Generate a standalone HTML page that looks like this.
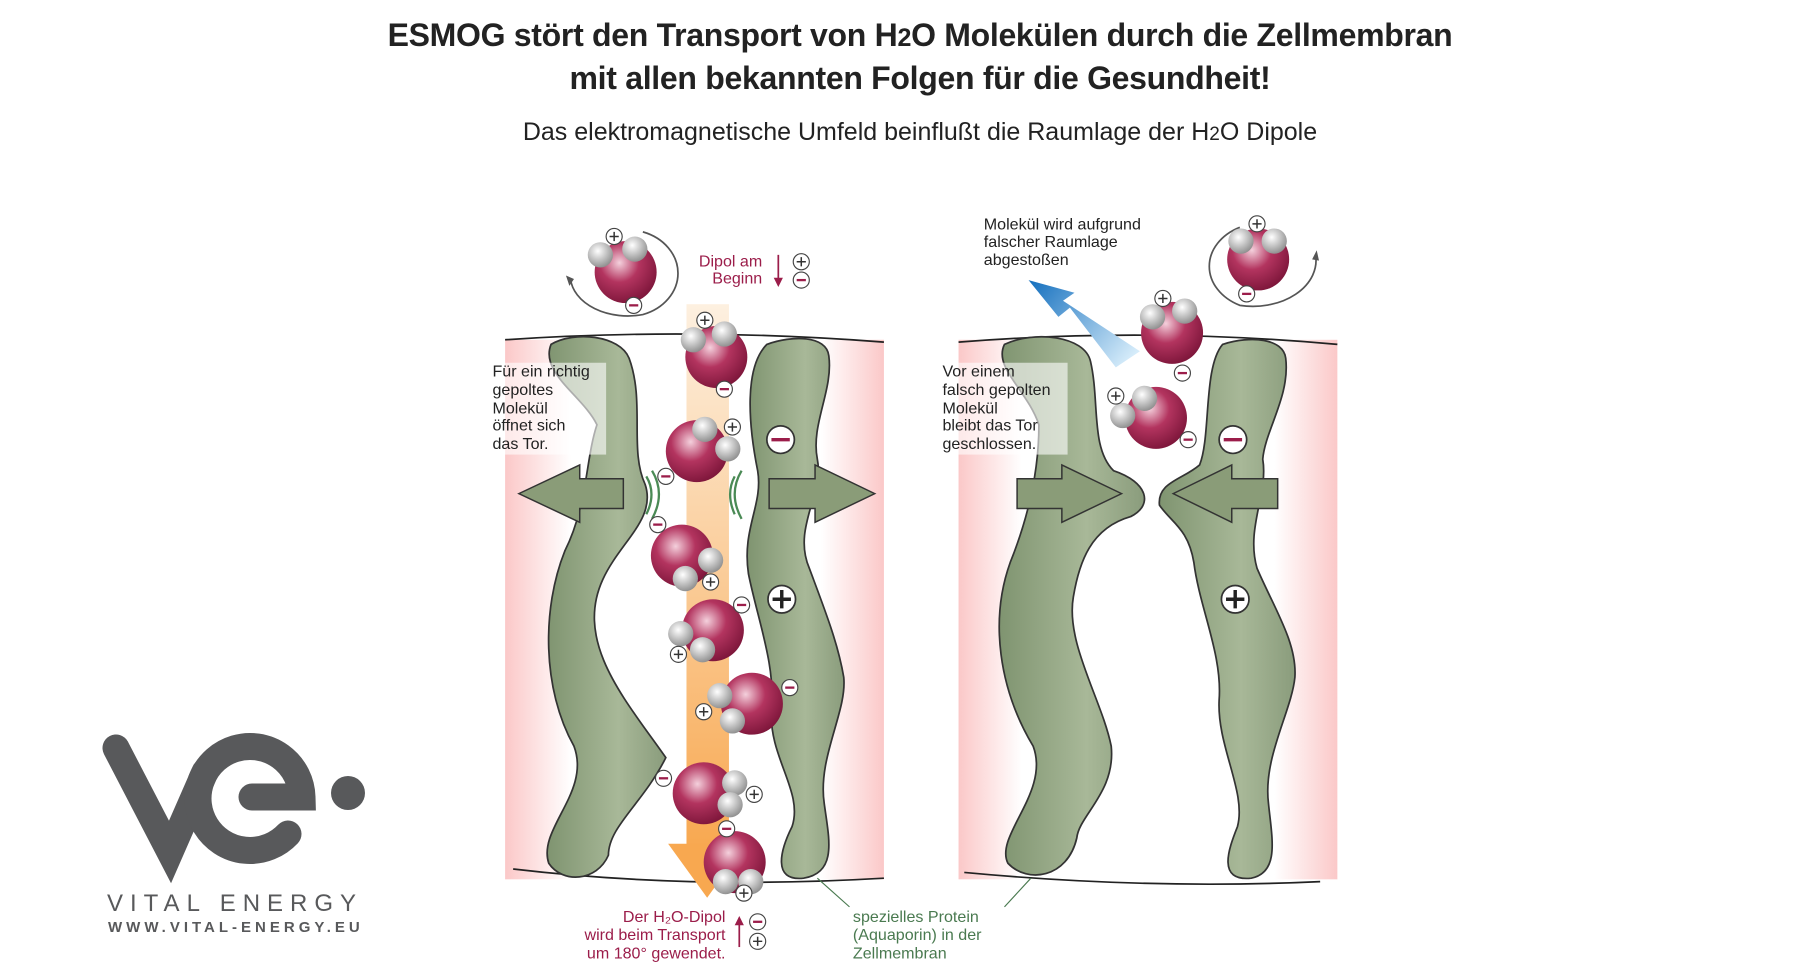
<!DOCTYPE html>
<html><head><meta charset="utf-8"><style>
html,body{margin:0;padding:0;background:#fff}
#w{position:relative;width:1800px;height:980px;overflow:hidden;font-family:"Liberation Sans",sans-serif}
.t{position:absolute;left:0;width:1840px;text-align:center;color:#222}
</style></head><body><div id="w">
<div class="t" style="top:15px;font-size:32px;font-weight:bold;line-height:40px;letter-spacing:-0.3px">ESMOG stört den Transport von H<span style="font-size:25px">2</span>O Molekülen durch die Zellmembran<br>mit allen bekannten Folgen für die Gesundheit!</div>
<div class="t" style="top:118px;font-size:25px">Das elektromagnetische Umfeld beinflußt die Raumlage der H<span style="font-size:19px">2</span>O Dipole</div>

<svg style="position:absolute;left:0;top:0" width="1800" height="980" viewBox="0 0 1568 853.7" font-family="Liberation Sans, sans-serif">
<defs>
<linearGradient id="pl" x1="0" x2="1"><stop offset="0" stop-color="#fbc8c8"/><stop offset="0.5" stop-color="#fff"/></linearGradient>
<linearGradient id="pr" x1="1" x2="0"><stop offset="0" stop-color="#fbc8c8"/><stop offset="0.5" stop-color="#fff"/></linearGradient>
<linearGradient id="or" x1="0" y1="0" x2="0" y2="1"><stop offset="0" stop-color="#fdf0e0"/><stop offset="1" stop-color="#f8a850"/></linearGradient>
<linearGradient id="bl" x1="983" y1="315" x2="900" y2="245" gradientUnits="userSpaceOnUse"><stop offset="0" stop-color="#d6ecfa"/><stop offset="1" stop-color="#1a73c0"/></linearGradient>
<radialGradient id="ox" cx="0.4" cy="0.35" r="0.7"><stop offset="0" stop-color="#f4d0dc"/><stop offset="0.45" stop-color="#b3345f"/><stop offset="1" stop-color="#7a1438"/></radialGradient>
<radialGradient id="hy" cx="0.4" cy="0.35" r="0.7"><stop offset="0" stop-color="#fff"/><stop offset="1" stop-color="#8a8a8a"/></radialGradient>
<linearGradient id="gr" x1="0" x2="1"><stop offset="0" stop-color="#7f9470"/><stop offset="0.6" stop-color="#a8b898"/><stop offset="1" stop-color="#8a9c7c"/></linearGradient>
<g id="m"><circle r="27" fill="url(#ox)"/></g>
<g id="h"><circle r="11" fill="url(#hy)"/></g>
<g id="pp"><circle r="7" fill="#fff" stroke="#444" stroke-width="1"/><path d="M-4 0H4M0-4V4" stroke="#333" stroke-width="1.3"/></g>
<g id="mm"><circle r="7" fill="#fff" stroke="#444" stroke-width="1"/><path d="M-4 0H4" stroke="#9b1d4a" stroke-width="2"/></g>
</defs>

<rect x="440" y="296" width="115" height="470" fill="url(#pl)"/>
<rect x="660" y="296" width="110" height="470" fill="url(#pr)"/>
<path d="M440 296 Q600 285 770 298" fill="none" stroke="#222" stroke-width="1.5"/>
<path d="M447 757 Q600 775 770 765" fill="none" stroke="#222" stroke-width="1.5"/>
<rect x="598" y="265" width="37" height="475" fill="url(#or)"/>
<polygon points="582,735 650,735 616,782" fill="#f8a850"/>
<path d="M480 300 C500 288 540 292 548 312 C562 350 548 392 562 422 C572 452 540 472 525 505 C500 560 545 610 580 660 C560 700 530 720 530 745 C520 768 490 770 478 752 C468 722 515 690 500 650 C472 600 472 530 492 480 C512 440 510 400 520 370 C508 345 470 325 480 300Z" fill="url(#gr)" stroke="#333" stroke-width="1.5"/>
<path d="M668 300 C690 292 720 292 722 310 C726 340 706 370 712 400 C718 430 690 460 705 495 C718 530 730 560 735 590 C738 620 712 660 718 700 C722 730 730 760 700 765 C672 768 680 740 690 720 C700 690 670 660 672 620 C676 580 660 540 652 500 C646 460 665 440 660 410 C652 370 648 320 668 300Z" fill="url(#gr)" stroke="#333" stroke-width="1.5"/>
<polygon points="452,430 505,405 505,417 543,417 543,443 505,443 505,455" fill="#8a9c78" stroke="#333" stroke-width="1.3"/>
<polygon points="762,430 710,405 710,417 670,417 670,443 710,443 710,455" fill="#8a9c78" stroke="#333" stroke-width="1.3"/>
<path d="M563 415 Q572 430 563 448 M568 410 Q580 430 568 452 M640 415 Q632 430 640 448 M646 410 Q634 430 646 452" fill="none" stroke="#4a8a55" stroke-width="2"/>
<rect x="428" y="316" width="100" height="80" fill="#fff" opacity="0.6"/>
<g font-size="14" fill="#222"><text x="429" y="328">Für ein richtig</text><text x="429" y="344">gepoltes</text><text x="429" y="360">Molekül</text><text x="429" y="375">öffnet sich</text><text x="429" y="391">das Tor.</text></g>
<circle cx="680" cy="383" r="12" fill="#fff" stroke="#333" stroke-width="1.5"/><path d="M672 383H688" stroke="#9b1d4a" stroke-width="3"/>
<circle cx="681" cy="522" r="12" fill="#fff" stroke="#333" stroke-width="1.5"/><path d="M673 522H689M681 514V530" stroke="#222" stroke-width="3"/>

<rect x="835" y="296" width="110" height="470" fill="url(#pl)"/>
<rect x="1055" y="296" width="110" height="470" fill="url(#pr)"/>
<path d="M835 298 Q1000 285 1165 300" fill="none" stroke="#222" stroke-width="1.5"/>
<path d="M840 760 Q1000 775 1150 768" fill="none" stroke="#222" stroke-width="1.5"/>
<path d="M875 300 C900 288 945 292 950 315 C958 350 950 390 970 410 C1000 420 1005 440 985 450 C950 460 940 490 935 520 C928 560 960 610 968 650 C972 690 940 710 938 730 C930 765 895 770 878 752 C866 728 915 690 900 650 C870 600 862 540 880 490 C900 440 905 400 905 370 C895 340 865 320 875 300Z" fill="url(#gr)" stroke="#333" stroke-width="1.5"/>
<path d="M1065 300 C1090 292 1118 295 1120 312 C1124 345 1102 375 1100 400 C1105 430 1085 460 1095 495 C1110 530 1130 560 1128 590 C1125 620 1100 660 1105 700 C1108 730 1115 760 1090 765 C1060 768 1070 740 1078 720 C1086 690 1060 650 1062 610 C1065 570 1045 530 1040 490 C1035 460 1020 455 1010 440 C1008 420 1030 418 1045 405 C1055 380 1048 320 1065 300Z" fill="url(#gr)" stroke="#333" stroke-width="1.5"/>
<polygon points="977,430 925,405 925,417 886,417 886,443 925,443 925,455" fill="#8a9c78" stroke="#333" stroke-width="1.3"/>
<polygon points="1022,430 1073,405 1073,417 1113,417 1113,443 1073,443 1073,455" fill="#8a9c78" stroke="#333" stroke-width="1.3"/>
<rect x="820" y="316" width="110" height="80" fill="#fff" opacity="0.6"/>
<g font-size="14" fill="#222"><text x="821" y="328">Vor einem</text><text x="821" y="344">falsch gepolten</text><text x="821" y="360">Molekül</text><text x="821" y="375">bleibt das Tor</text><text x="821" y="391">geschlossen.</text></g>
<circle cx="1074" cy="383" r="12" fill="#fff" stroke="#333" stroke-width="1.5"/><path d="M1066 383H1082" stroke="#9b1d4a" stroke-width="3"/>
<circle cx="1076" cy="522" r="12" fill="#fff" stroke="#333" stroke-width="1.5"/><path d="M1068 522H1084M1076 514V530" stroke="#222" stroke-width="3"/>
<polygon points="993,306 972,320 932,268 922,276 896,244 936,255 926,262" fill="url(#bl)"/>
<g font-size="14" fill="#222"><text x="857" y="200">Molekül wird aufgrund</text><text x="857" y="215">falscher Raumlage</text><text x="857" y="231">abgestoßen</text></g>

<path d="M560 202 A45 38 0 0 1 560 274 A50 35 0 0 1 497 243" fill="none" stroke="#555" stroke-width="1.5"/><path d="M493 240l3 9 4-6z" fill="#555"/>
<use href="#m" x="545" y="237"/><use href="#h" x="523" y="222"/><use href="#h" x="553" y="217"/><use href="#pp" x="535" y="206"/><use href="#mm" x="552" y="266"/>
<path d="M1080 198 A48 38 0 0 0 1080 266 A55 40 0 0 0 1146 222" fill="none" stroke="#555" stroke-width="1.5"/><path d="M1147 218l-4 8 6 1z" fill="#555"/>
<use href="#m" x="1096" y="226"/><use href="#h" x="1081" y="210"/><use href="#h" x="1110" y="210"/><use href="#pp" x="1095" y="195"/><use href="#mm" x="1086" y="256"/>
<use href="#m" x="1021" y="290"/><use href="#h" x="1004" y="276"/><use href="#h" x="1032" y="271"/><use href="#pp" x="1013" y="260"/><use href="#mm" x="1030" y="325"/>
<use href="#m" x="1007" y="364"/><use href="#h" x="978" y="362"/><use href="#h" x="997" y="347"/><use href="#pp" x="972" y="345"/><use href="#mm" x="1035" y="383"/>
<use href="#m" x="624" y="311"/><use href="#h" x="604" y="296"/><use href="#h" x="631" y="291"/><use href="#pp" x="614" y="279"/><use href="#mm" x="631" y="339"/>
<use href="#m" x="607" y="393"/><use href="#h" x="614" y="374"/><use href="#h" x="634" y="391"/><use href="#pp" x="638" y="372"/><use href="#mm" x="580" y="415"/>
<use href="#m" x="594" y="484"/><use href="#h" x="619" y="488"/><use href="#h" x="597" y="504"/><use href="#pp" x="619" y="507"/><use href="#mm" x="573" y="457"/>
<use href="#m" x="621" y="549"/><use href="#h" x="593" y="552"/><use href="#h" x="612" y="566"/><use href="#pp" x="591" y="570"/><use href="#mm" x="646" y="527"/>
<use href="#m" x="655" y="613"/><use href="#h" x="627" y="606"/><use href="#h" x="638" y="628"/><use href="#pp" x="613" y="620"/><use href="#mm" x="688" y="599"/>
<use href="#m" x="613" y="691"/><use href="#h" x="640" y="682"/><use href="#h" x="636" y="701"/><use href="#pp" x="657" y="692"/><use href="#mm" x="578" y="678"/>
<use href="#m" x="640" y="751"/><use href="#h" x="632" y="768"/><use href="#h" x="654" y="768"/><use href="#pp" x="648" y="778"/><use href="#mm" x="633" y="722"/>

<g font-size="14" fill="#9b1d4a" text-anchor="end"><text x="664" y="232">Dipol am</text><text x="664" y="247">Beginn</text>
<text x="632" y="803">Der H₂O-Dipol</text><text x="632" y="819">wird beim Transport</text><text x="632" y="835">um 180° gewendet.</text></g>
<path d="M678 222V246" stroke="#9b1d4a" stroke-width="1.5"/><path d="M674 242l4 8 4-8z" fill="#9b1d4a"/>
<path d="M644 825V802" stroke="#9b1d4a" stroke-width="1.5"/><path d="M640 806l4-8 4 8z" fill="#9b1d4a"/>
<use href="#pp" x="698" y="228"/><use href="#mm" x="698" y="244"/><use href="#mm" x="660" y="803"/><use href="#pp" x="660" y="820"/>
<g font-size="14" fill="#4a7a50"><text x="743" y="803">spezielles Protein</text><text x="743" y="819">(Aquaporin) in der</text><text x="743" y="835">Zellmembran</text></g>
<path d="M740 790 L712 765 M875 790 L898 765" stroke="#4a7a50" stroke-width="1"/>
</svg>

<svg style="position:absolute;left:0;top:0" width="420" height="980">
<g fill="none" stroke="#58595b" stroke-width="27" stroke-linecap="round">
<polyline points="116,748 170,852 205,772"/>
<path d="M252 797 H302 A52 52 0 1 0 288 834"/>
</g>
<circle cx="348" cy="793" r="17" fill="#58595b"/>
<text x="107" y="911" font-family="Liberation Sans, sans-serif" font-size="24" fill="#58595b" letter-spacing="7">VITAL ENERGY</text>
<text x="108" y="932" font-family="Liberation Sans, sans-serif" font-size="15" font-weight="bold" fill="#58595b" letter-spacing="4">WWW.VITAL-ENERGY.EU</text>
</svg>
</div></body></html>
